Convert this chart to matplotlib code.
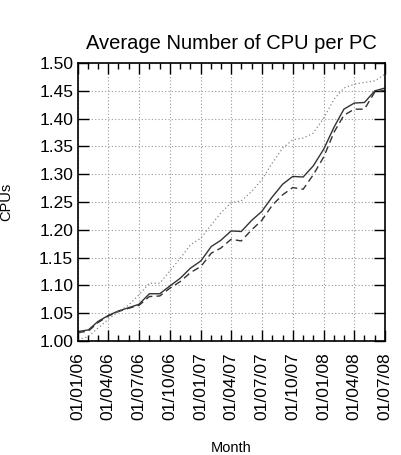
import matplotlib
matplotlib.use('Agg')
import matplotlib.pyplot as plt
import matplotlib.dates as mdates
from matplotlib.ticker import MultipleLocator
import pandas as pd

plt.rcParams['font.family'] = ['Liberation Sans', 'DejaVu Sans']

months = pd.date_range('2006-01-01', '2008-07-01', freq='MS')

cpu_solid = [1.017, 1.020, 1.035, 1.046, 1.054, 1.060, 1.066, 1.085, 1.085, 1.099,
             1.113, 1.131, 1.144, 1.170, 1.181, 1.198, 1.197, 1.217, 1.233, 1.259,
             1.282, 1.296, 1.295, 1.315, 1.345, 1.385, 1.417, 1.428, 1.429, 1.450,
             1.455]
cpu_dashed = [1.015, 1.018, 1.033, 1.045, 1.053, 1.059, 1.064, 1.080, 1.081, 1.095,
              1.107, 1.123, 1.134, 1.158, 1.167, 1.183, 1.180, 1.200, 1.217, 1.244,
              1.263, 1.276, 1.273, 1.299, 1.331, 1.376, 1.406, 1.417, 1.417, 1.448,
              1.451]
cpu_dotted = [1.002, 1.008, 1.023, 1.039, 1.053, 1.065, 1.083, 1.104, 1.104, 1.126,
              1.149, 1.173, 1.185, 1.209, 1.230, 1.249, 1.252, 1.269, 1.290, 1.320,
              1.347, 1.362, 1.365, 1.374, 1.401, 1.435, 1.455, 1.462, 1.465, 1.468,
              1.480]

fig = plt.figure(figsize=(4.01, 4.55), dpi=100)
ax = fig.add_axes([0.1945, 0.2505, 0.7655, 0.611])

ax.plot(months, cpu_solid, color='#333333', lw=1.0, ls='-')
ax.plot(months, cpu_dashed, color='#333333', lw=1.0, ls=(0, (5, 3)))
ax.plot(months, cpu_dotted, color='#888888', lw=0.9, ls=(0, (1, 2)))

ax.set_xlim(months[0], months[-1])
ax.set_ylim(1.0, 1.5)
ax.yaxis.set_major_locator(MultipleLocator(0.05))
ax.yaxis.set_major_formatter(matplotlib.ticker.FormatStrFormatter('%.2f'))
ax.xaxis.set_major_locator(mdates.MonthLocator(bymonth=[1, 4, 7, 10]))
ax.xaxis.set_minor_locator(mdates.MonthLocator())
ax.xaxis.set_major_formatter(mdates.DateFormatter('%d/%m/%y'))

ax.grid(True, which='major', color='#999999', ls=(0, (1, 2)), lw=0.8)
ax.tick_params(which='both', direction='in', top=True, right=True,
               labelsize=12.5, color='black')
ax.tick_params(which='major', length=8, width=1.0)
ax.tick_params(which='minor', length=4, width=1.0)
ax.tick_params(axis='x', which='major', pad=8)
plt.setp(ax.get_xticklabels(), rotation=90)
for s in ax.spines.values():
    s.set_linewidth(1.2)

ax.set_title('Average Number of CPU per PC', fontsize=14.5, pad=10)
ax.set_ylabel('CPUs', fontsize=10.5)
ax.yaxis.set_label_coords(-0.21, 0.50)
ax.set_xlabel('Month', fontsize=10.5)
ax.xaxis.set_label_coords(0.5, -0.36)

fig.savefig('out.png', dpi=100)
